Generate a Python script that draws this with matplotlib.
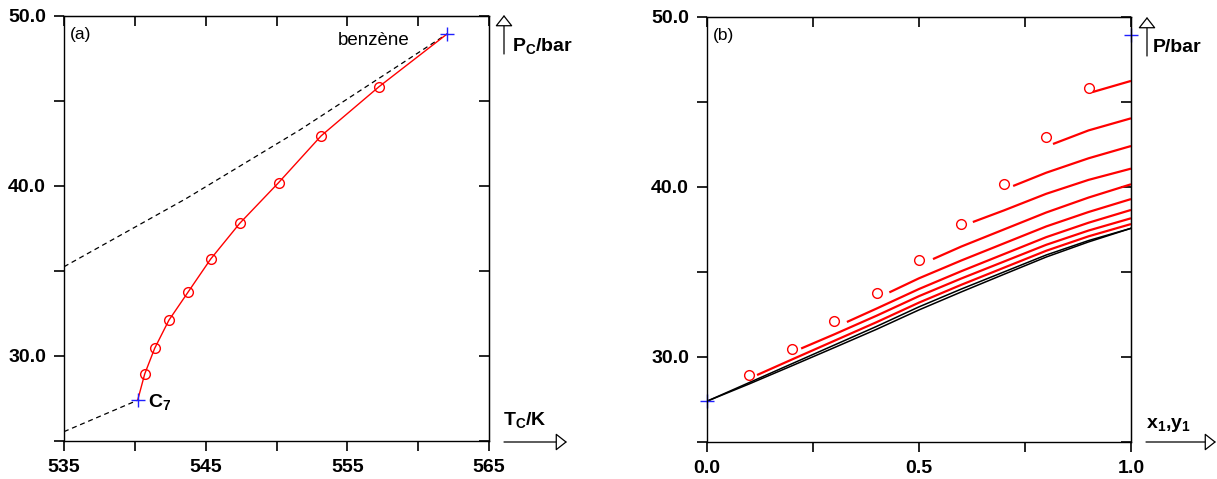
import numpy as np
import matplotlib
matplotlib.use('Agg')
import matplotlib.pyplot as plt

plt.rcParams['font.family'] = 'Liberation Sans'
plt.rcParams['mathtext.fontset'] = 'custom'
plt.rcParams['mathtext.rm'] = 'Liberation Sans'
plt.rcParams['mathtext.bf'] = 'Liberation Sans:bold'

# ---- panel (a) : critical line Tc-Pc ----
Tc_pure = [540.2, 562.05]          # heptane, benzene
Pc_pure = [27.4, 48.95]
Tc_exp = [540.7, 541.4, 542.4, 543.75, 545.35, 547.4, 550.15, 553.15, 557.25]
Pc_exp = [28.95, 30.45, 32.1, 33.75, 35.7, 37.8, 40.2, 42.95, 45.85]
Tc_calc = [540.2, 540.7, 541.4, 542.4, 543.75, 545.35, 547.4, 550.15, 553.15, 557.25, 562.05]
Pc_calc = [27.4, 28.95, 30.45, 32.1, 33.75, 35.7, 37.8, 40.2, 42.95, 45.85, 48.95]
T_dash_up = [535.0, 543.6, 551.65, 562.05]
P_dash_up = [35.25, 39.25, 43.3, 48.95]
T_dash_lo = [535.0, 540.2]
P_dash_lo = [25.55, 27.4]

# ---- panel (b) : isotherms P-x,y ----
x_exp = [0.1, 0.2, 0.3, 0.4, 0.5, 0.6, 0.7, 0.8, 0.9]
x_black = [0.0, 0.1, 0.2, 0.3, 0.4, 0.5, 0.6, 0.7, 0.8, 0.9, 1.0]
P_black1 = [27.4, 28.5, 29.6, 30.7, 31.8, 32.95, 34.0, 35.0, 36.0, 36.85, 37.57]
P_black2 = [27.4, 28.42, 29.48, 30.55, 31.63, 32.77, 33.83, 34.86, 35.88, 36.77, 37.57]
x_red = [
    [0.118, 0.2, 0.3, 0.4, 0.5, 0.6, 0.7, 0.8, 0.9, 1.0],
    [0.222, 0.3, 0.4, 0.5, 0.6, 0.7, 0.8, 0.9, 1.0],
    [0.33, 0.4, 0.5, 0.6, 0.7, 0.8, 0.9, 1.0],
    [0.43, 0.5, 0.6, 0.7, 0.8, 0.9, 1.0],
    [0.533, 0.6, 0.7, 0.8, 0.9, 1.0],
    [0.627, 0.7, 0.8, 0.9, 1.0],
    [0.722, 0.8, 0.9, 1.0],
    [0.816, 0.9, 1.0],
    [0.91, 1.0],
]
P_red = [
    [28.94, 29.85, 30.95, 32.05, 33.2, 34.25, 35.25, 36.25, 37.1, 37.82],
    [30.5, 31.33, 32.43, 33.58, 34.62, 35.61, 36.6, 37.44, 38.16],
    [32.06, 32.85, 34.0, 35.05, 36.05, 37.05, 37.9, 38.65],
    [33.8, 34.63, 35.68, 36.68, 37.68, 38.53, 39.29],
    [35.76, 36.5, 37.5, 38.5, 39.38, 40.16],
    [37.94, 38.62, 39.6, 40.42, 41.08],
    [40.06, 40.84, 41.69, 42.41],
    [42.53, 43.33, 44.04],
    [45.59, 46.24],
]

W, H = 1217, 479
fig = plt.figure(figsize=(W / 100, H / 100), dpi=100)
axa = fig.add_axes([64 / W, 1 - 441 / H, 425 / W, 425 / H])
axb = fig.add_axes([707 / W, 1 - 442 / H, 424 / W, 425 / H])


def style(ax, xt, xlab):
    for s in ax.spines.values():
        s.set_linewidth(1.0)
    yt = [25, 30, 35, 40, 45, 50]
    ax.set_yticks(yt)
    ax.set_yticklabels(['', '30.0', '', '40.0', '', '50.0'])
    ax.set_xticks(xt)
    ax.set_xticklabels(xlab)
    ax.tick_params(direction='out', length=7, width=1.2, labelsize=14, pad=6)
    for lab in ax.get_xticklabels() + ax.get_yticklabels():
        lab.set_fontweight('bold')
    top = ax.secondary_xaxis('top')
    top.set_xticks(xt)
    top.tick_params(direction='in', length=7, width=1.2, labeltop=False)
    right = ax.secondary_yaxis('right')
    right.set_yticks(yt)
    right.tick_params(direction='in', length=7, width=1.2, labelright=False)


# panel (a)
axa.set_xlim(535, 565)
axa.set_ylim(25, 50)
axa.plot(T_dash_up, P_dash_up, color='black', lw=0.9, ls=(0, (4, 3)))
axa.plot(T_dash_lo, P_dash_lo, color='black', lw=0.9, ls=(0, (4, 3)))
axa.plot(Tc_calc, Pc_calc, color='red', lw=1.0)
axa.plot(Tc_exp, Pc_exp, 'o', mfc='none', mec='red', ms=7, mew=1.0)
axa.plot(Tc_pure, Pc_pure, '+', color='#2020ff', ms=10, mew=1.0, clip_on=False)
axa.text(0.013, 0.975, '(a)', transform=axa.transAxes, fontsize=12.5, va='top', ha='left')
axa.text(559.4, 48.55, 'benzène', fontsize=13.5, ha='right', va='center')
axa.text(540.9, 27.3, r'$\mathbf{C_7}$', fontsize=14, ha='left', va='center')
style(axa, [535, 540, 545, 550, 555, 560, 565], ['535', '', '545', '', '555', '', '565'])

# panel (b)
axb.set_xlim(0, 1)
axb.set_ylim(25, 50)
axb.plot(x_black, P_black1, color='black', lw=1.1)
axb.plot(x_black, P_black2, color='black', lw=1.1)
for xs, ps in zip(x_red, P_red):
    axb.plot(xs, ps, color='red', lw=1.6, solid_capstyle='butt')
axb.plot(x_exp, Pc_exp, 'o', mfc='none', mec='red', ms=7, mew=1.0)
axb.plot([0.0, 1.0], Pc_pure, '+', color='#2020ff', ms=10, mew=1.0, clip_on=False)
axb.text(0.013, 0.975, '(b)', transform=axb.transAxes, fontsize=12.5, va='top', ha='left')
style(axb, [0.0, 0.25, 0.5, 0.75, 1.0], ['0.0', '', '0.5', '', '1.0'])

# axis arrows and labels (figure pixel coordinates, origin bottom-left)
ap = dict(arrowstyle='-|>,head_length=0.7,head_width=0.55', fc='white', ec='black',
          lw=0.9, shrinkA=0, shrinkB=0, mutation_scale=10)
for (x0, y0, x1, y1) in [(504, 54, 504, 15), (504, 442, 567, 442),
                         (1147, 56, 1147, 17), (1146, 442, 1216, 442)]:
    fig.add_artist(plt.Annotation('', xy=(x1, H - y1), xytext=(x0, H - y0),
                                  xycoords='figure pixels', textcoords='figure pixels',
                                  arrowprops=ap))

fig.text(512 / W, 1 - 46 / H, r'$\mathbf{P_C}$/bar', fontsize=14, fontweight='bold', va='center')
fig.text(503 / W, 1 - 420 / H, r'$\mathbf{T_C}$/K', fontsize=14, fontweight='bold', va='center')
fig.text(1153 / W, 1 - 48 / H, 'P/bar', fontsize=14, fontweight='bold', va='center')
fig.text(1146 / W, 1 - 425 / H, r'$\mathbf{x_1{,}y_1}$', fontsize=14, fontweight='bold', va='center')

fig.savefig('out.png', dpi=100)
